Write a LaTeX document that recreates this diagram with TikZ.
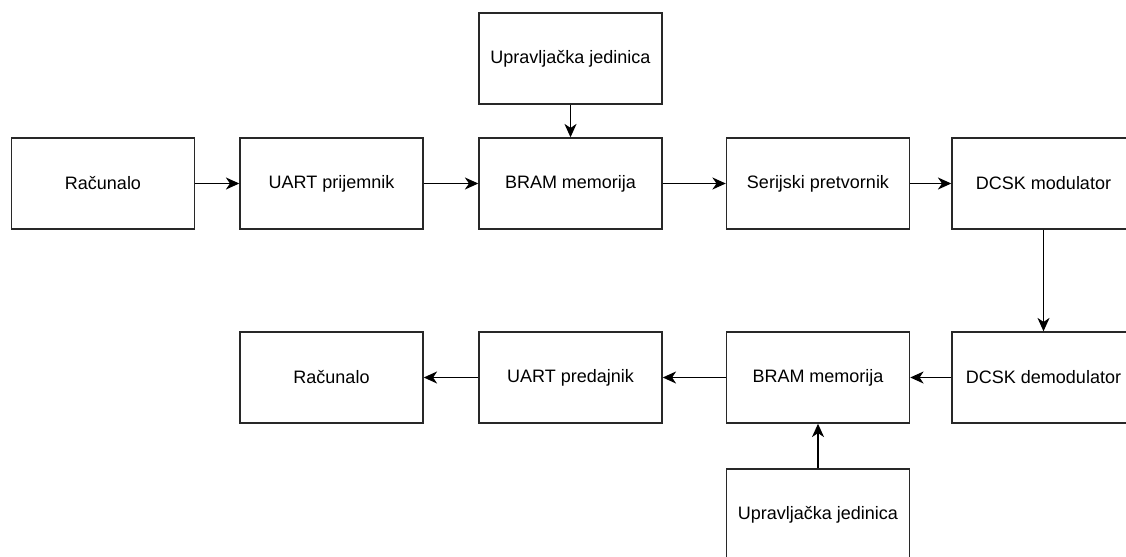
\documentclass[tikz,border=0pt]{standalone}
\usepackage{fontspec}
\setmainfont{Liberation Sans}
\usetikzlibrary{arrows.meta}

\begin{document}
\begin{tikzpicture}[x=0.75pt,y=0.75pt,yscale=-1,xscale=1,
    blok/.style={draw, color={rgb, 255:red, 40; green, 40; blue, 40}, text=black, line width=1.1pt,
      minimum width=137.25pt, minimum height=68.25pt, inner sep=0pt,
      font=\fontsize{13.5}{16}\selectfont},
    veza/.style={draw, line width=1.1pt, -{Stealth[length=10pt,width=9pt,inset=3pt]}}]

    \clip (0,0) rectangle (1126,556);

    % gornji red
    \node [blok] (racunaloA) at (103,183.5) {Računalo};
    \node [blok] (uartRx) at (331.5,183.5) {UART prijemnik};
    \node [blok] (bramA) at (570.5,183.5) {BRAM memorija};
    \node [blok] (serijski) at (818,183.5) {Serijski pretvornik};
    \node [blok] (dcskMod) at (1043.5,183.5) {DCSK modulator};
    \node [blok] (upravA) at (570.5,58.5) {Upravljačka jedinica};

    % donji red
    \node [blok] (racunaloB) at (331.5,377.5) {Računalo};
    \node [blok] (uartTx) at (570.5,377.5) {UART predajnik};
    \node [blok] (bramB) at (818,377.5) {BRAM memorija};
    \node [blok] (dcskDemod) at (1043.5,377.5) {DCSK demodulator};
    \node [blok] (upravB) at (818,514.5) {Upravljačka jedinica};

    % veze
    \draw [veza] (racunaloA) -- (uartRx);
    \draw [veza] (uartRx) -- (bramA);
    \draw [veza] (bramA) -- (serijski);
    \draw [veza] (serijski) -- (dcskMod);
    \draw [veza] (upravA) -- (bramA);
    \draw [veza] (dcskMod) -- (dcskDemod);
    \draw [veza] (dcskDemod) -- (bramB);
    \draw [veza] (bramB) -- (uartTx);
    \draw [veza] (uartTx) -- (racunaloB);
    \draw [veza] (upravB) -- (bramB);

\end{tikzpicture}
\end{document}
